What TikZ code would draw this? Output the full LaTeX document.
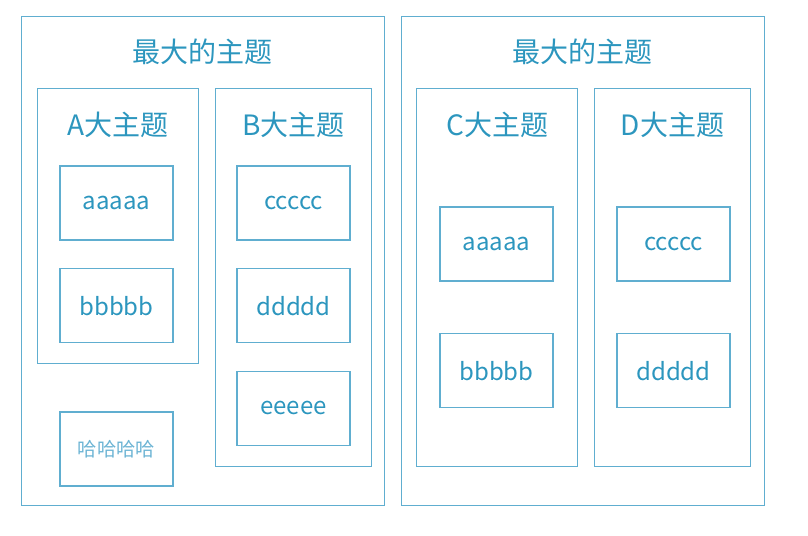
\documentclass[tikz,border=0pt]{standalone}
\usepackage{fontspec}
\setmainfont{Noto Sans CJK SC}
\usepackage{xcolor}
\usepackage{tikz}
\usetikzlibrary{positioning}

\definecolor{edge}{RGB}{96,174,208}
\definecolor{ink}{RGB}{44,150,190}
\definecolor{inklight}{RGB}{108,180,212}

\begin{document}
\begin{tikzpicture}[
  outer/.style={draw=edge, line width=0.9pt, anchor=north west, minimum width=272.25pt, minimum height=366.75pt, inner sep=0pt},
  group/.style={draw=edge, line width=0.9pt, anchor=north west, minimum height=283.5pt, inner sep=0pt},
  title/.style={text=ink, font=\fontsize{21}{24}\selectfont, inner sep=0pt},
  leaf/.style={draw=edge, line width=0.9pt, text=ink, font=\fontsize{18}{20}\selectfont, minimum width=84.75pt, minimum height=55.5pt, inner sep=0pt},
]
\useasboundingbox (0pt,0pt) rectangle (606pt,-402pt);

% --- Outer boxes ---
\node[outer] (outerL) at (15.75pt,-12pt) {};
\node[outer] (outerR) at (300.75pt,-12pt) {};
\node[title] (titleL) at (151.9pt,-39pt) {最大的主题};
\node[title] (titleR) at (436.9pt,-39pt) {最大的主题};

% --- Groups ---
\node[group, minimum width=120.75pt, minimum height=206.25pt] (boxA) at (27.75pt,-66pt) {};
\node[group, minimum width=117pt] (boxB) at (161.25pt,-66pt) {};
\node[group, minimum width=120.75pt] (boxC) at (312pt,-66pt) {};
\node[group, minimum width=117pt] (boxD) at (445.5pt,-66pt) {};

\node[title] (tA) at ([yshift=-27.75pt]boxA.north) {A大主题};
\node[title] (tB) at ([yshift=-27.75pt]boxB.north) {B大主题};
\node[title] (tC) at ([yshift=-27.75pt]boxC.north) {C大主题};
\node[title] (tD) at ([yshift=-27.75pt]boxD.north) {D大主题};

% --- Leaves: A ---
\node[leaf] (a1) at (87.4pt,-152.25pt) {aaaaa};
\node[leaf] (a2) [below=20.6pt of a1] {bbbbb};
\node[leaf, text=inklight, font=\fontsize{14.5}{17}\selectfont] (ha) at (87.4pt,-336.75pt) {哈哈哈哈};

% --- Leaves: B ---
\node[leaf] (b1) at (220.1pt,-152.25pt) {ccccc};
\node[leaf] (b2) [below=20.6pt of b1] {ddddd};
\node[leaf] (b3) [below=20.6pt of b2] {eeeee};

% --- Leaves: C and D ---
\node[leaf] (c1) at (372.4pt,-183pt) {aaaaa};
\node[leaf] (c2) [below=38.6pt of c1] {bbbbb};
\node[leaf] (d1) at (505.1pt,-183pt) {ccccc};
\node[leaf] (d2) [below=38.6pt of d1] {ddddd};

\end{tikzpicture}
\end{document}
